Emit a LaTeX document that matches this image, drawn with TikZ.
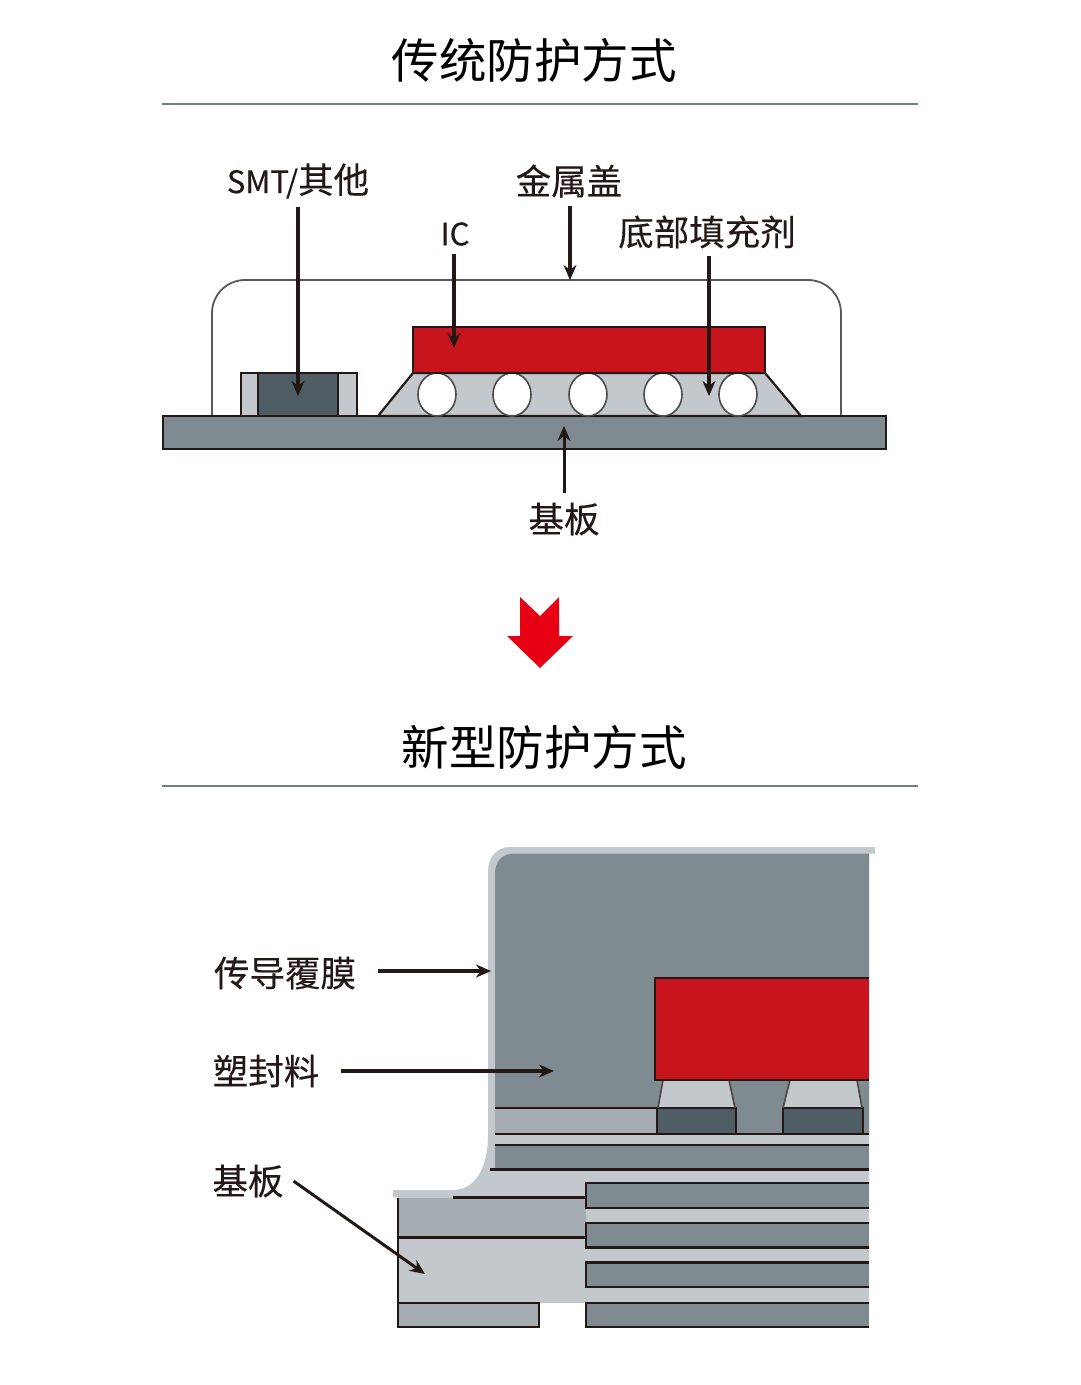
\documentclass[tikz,border=0pt]{standalone}
\usepackage{fontspec}
\usetikzlibrary{arrows.meta}
\setmainfont{Noto Sans CJK SC}
\newfontfamily\labelfont[FakeBold=0.25]{Noto Sans CJK SC}
\definecolor{inkdark}{HTML}{231815}
\definecolor{moldgrey}{HTML}{808B91}
\definecolor{filmgrey}{HTML}{C3C8CC}
\definecolor{layergrey}{HTML}{A6ADB2}
\definecolor{paddark}{HTML}{4F5D65}
\definecolor{chipred}{HTML}{C8151D}
\definecolor{arrowred}{HTML}{E60012}
\definecolor{rulegrey}{HTML}{6F8087}
\tikzset{
  titletext/.style={font=\fontsize{47.5}{52}\selectfont, text=black, inner sep=0pt},
  partlabel/.style={font=\labelfont\fontsize{35.5}{40}\selectfont, text=inkdark, inner sep=0pt, outer sep=8pt},
  callout/.style={draw=inkdark, line width=3.8pt, -{Stealth[length=15pt,width=13pt]}},
  outlined/.style={draw=inkdark, line width=2.2pt},
}
\begin{document}
\begin{tikzpicture}[x=1pt,y=-1pt]
\useasboundingbox (0,0) rectangle (1080,1385);
\def\latinpart{\fontsize{31}{40}\selectfont}
% traditional
\node[titletext] (titleold) at (534,60) {传统防护方式};
\draw[rulegrey, line width=1.6pt] (162,104) -- (918,104);
\draw[draw=black!65, line width=1.8pt, rounded corners=33pt] (212,416) -- (212,280) -- (841,280) -- (841,416);
\draw[outlined, fill=moldgrey] (163,416) rectangle (886,449);
\draw[outlined, fill=filmgrey] (241,373) rectangle (357,416);
\draw[outlined, fill=paddark] (258,373) rectangle (338,416);
\draw[outlined, fill=filmgrey] (378,416) -- (413,373) -- (765,373) -- (801,416) -- cycle;
\foreach \ballx in {437,512,588,663,738}
  \draw[draw=black!70, line width=1.6pt, fill=white] (\ballx,394.5) ellipse (19 and 21.5);
\draw[outlined, fill=chipred] (413,327) rectangle (765,373);
\node[partlabel] (lblsmt) at (298,181) {{\latinpart SMT/}其他};
\node[partlabel] (lblcap) at (569,181) {金属盖};
\node[partlabel] (lblic) at (455,234) {\latinpart IC};
\node[partlabel] (lblfill) at (707,232) {底部填充剂};
\node[partlabel, outer sep=10pt] (lblboard) at (564,519) {基板};
\coordinate (tipsmt) at (298,396);
\coordinate (tipic) at (454,348);
\coordinate (tipcap) at (570,280);
\coordinate (tipfill) at (709,396);
\coordinate (tipboard) at (564,426);
\draw[callout] (lblsmt.south -| tipsmt) -- (tipsmt);
\draw[callout] (lblic.south -| tipic) -- (tipic);
\draw[callout] (lblcap.south -| tipcap) -- (tipcap);
\draw[callout] (lblfill.south -| tipfill) -- (tipfill);
\draw[callout, line width=3pt] (lblboard.north) -- (tipboard);
% red arrow
\fill[arrowred] (520,597) -- (540,616) -- (559,597) -- (559,636) -- (573,636) -- (540,668) -- (507,636) -- (520,636) -- cycle;
% new
\node[titletext] (titlenew) at (544,747) {新型防护方式};
\draw[rulegrey, line width=1.6pt] (162,786) -- (918,786);
\fill[filmgrey] (875,847) -- (510,847) .. controls (497,847) and (488,857) .. (488,872) -- (488,1135) .. controls (488,1168) and (475,1190) .. (453,1190) -- (393,1190) -- (393,1197) -- (398,1197) -- (398,1303) -- (869,1303) -- (869,853.5) -- (875,853.5) -- cycle;
\fill[moldgrey] (869,853.5) -- (514,853.5) .. controls (503,853.5) and (495,861) .. (495,873) -- (495,1134) -- (869,1134) -- cycle;
\fill[filmgrey] (663,1080) -- (658,1108) -- (735,1108) -- (729,1080) -- cycle;
\fill[filmgrey] (790,1080) -- (783,1108) -- (862,1108) -- (857,1080) -- cycle;
\fill[layergrey] (495,1108) rectangle (657,1134);
\fill[layergrey] (398,1198) rectangle (586,1237);
\fill[moldgrey] (495,1145) rectangle (869,1169.5);
\draw[outlined] (495,1108) -- (657,1108) (495,1134) -- (869,1134) (495,1145) -- (869,1145) (490,1169.5) -- (869,1169.5);
\draw[outlined] (398,1303) -- (398,1198) (453,1197.5) -- (586,1197.5) (398,1237.5) -- (586,1237.5);
\draw[outlined, fill=paddark] (657,1134) rectangle (736,1108);
\draw[outlined, fill=paddark] (783,1134) rectangle (863,1108);
\draw[draw=inkdark!80, line width=1.6pt] (663,1080) -- (658,1108) (729,1080) -- (735,1108) (790,1080) -- (783,1108) (857,1080) -- (862,1108);
\foreach \layertop/\layerbot in {1183/1208,1223/1247.5,1262.5/1287,1303/1327}
  \draw[outlined, fill=moldgrey] (869,\layertop) -- (586,\layertop) -- (586,\layerbot) -- (869,\layerbot);
\draw[outlined, fill=layergrey] (398,1303) rectangle (539,1327);
\fill[chipred] (655,978) rectangle (869,1080);
\draw[outlined] (869,978) -- (655,978) -- (655,1080) -- (869,1080);
\node[partlabel, outer xsep=22pt] (lblfilm) at (285,973) {传导覆膜};
\node[partlabel, outer xsep=22pt] (lblmold) at (266,1071) {塑封料};
\node[partlabel, outer xsep=10pt] (lblsub) at (248,1181) {基板};
\coordinate (tipfilm) at (491,971);
\coordinate (tipmold) at (554,1071);
\coordinate (tipsub) at (425,1274);
\draw[callout] (lblfilm.east |- tipfilm) -- (tipfilm);
\draw[callout] (lblmold.east |- tipmold) -- (tipmold);
\draw[callout, line width=3pt] (lblsub.east) -- (tipsub);
\end{tikzpicture}
\end{document}
